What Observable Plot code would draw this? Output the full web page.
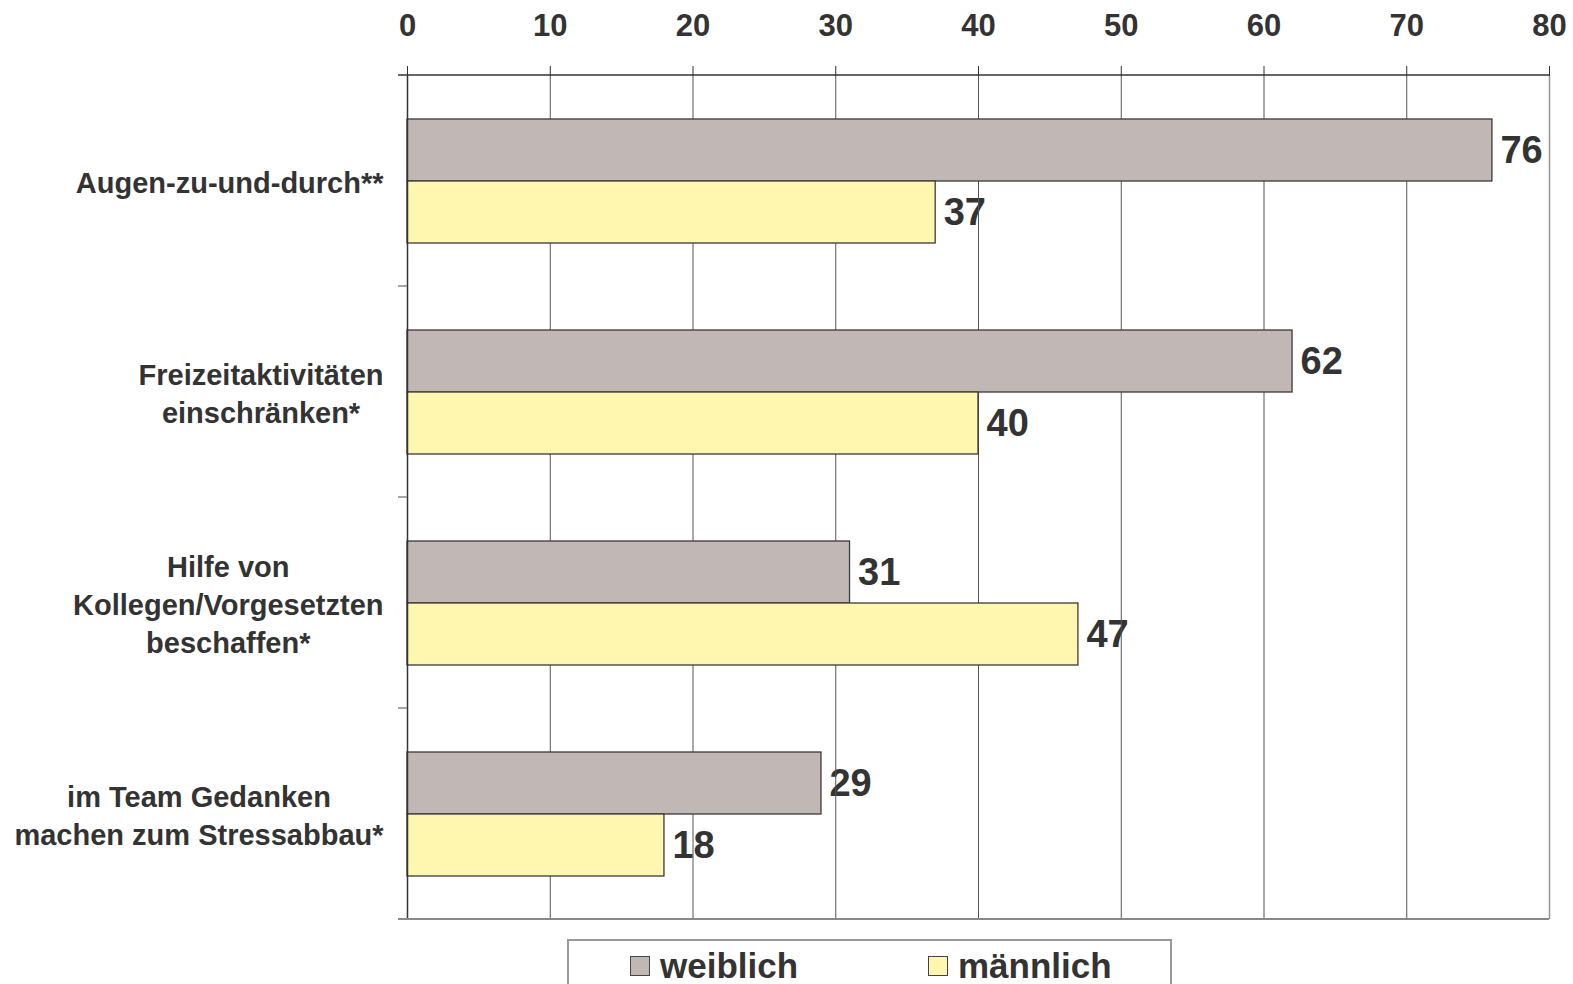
<!DOCTYPE html>
<html>
<head>
<meta charset="utf-8">
<script src="https://cdn.jsdelivr.net/npm/d3@7"></script>
<script src="https://cdn.jsdelivr.net/npm/@observablehq/plot@0.6"></script>
<style>
  html, body { margin: 0; padding: 0; background: #fff; }
  body { font-family: "Liberation Sans", Arial, Helvetica, sans-serif; color: #333; }
  #chart svg { display: block; }
  .legend {
    margin-left: 567px;
    margin-top: 9px;
    width: 605px;
    height: 60px;
    box-sizing: border-box;
    border: 2px solid #999;
    display: flex;
    align-items: flex-start;
    padding-left: 61px;
    padding-top: 5px;
  }
  .legend .item { display: flex; align-items: center; flex: 0 0 auto; font-weight: bold; font-size: 35px; line-height: 1.15; }
  .legend .item:first-child { width: 298px; }
  .legend .swatch { width: 20px; height: 20px; border: 1.5px solid #444; margin-right: 10px; box-sizing: border-box; }
</style>
</head>
<body>
<div id="chart"></div>
<script>
// Coping strategies by gender (percent)
const categories = [
  "Augen-zu-und-durch**",
  "Freizeitaktivitäten\neinschränken*",
  "Hilfe von\nKollegen/Vorgesetzten\nbeschaffen*",
  "im Team Gedanken\nmachen zum Stressabbau*"
];
const series = ["weiblich", "männlich"];
const seriesColors = ["#C1B8B6", "#FFF7B0"];
const weiblich = [76, 62, 31, 29];
const maennlich = [37, 40, 47, 18];
const xTicks = [0, 10, 20, 30, 40, 50, 60, 70, 80];
const gridTicks = [10, 20, 30, 40, 50, 60, 70];

const values = [weiblich, maennlich];
const data = categories.flatMap((cat, i) =>
  series.map((sex, s) => ({cat, sex, value: values[s][i]}))
);

const FONT = "'Liberation Sans', Arial, Helvetica, sans-serif";
const INK = "#333";
const labelSize = 29;

// width of the widest line of each category label, to centre the lines of a block
const ctx = document.createElement("canvas").getContext("2d");
ctx.font = `bold ${labelSize}px ${FONT}`;
const blockWidth = (s) => d3.max(s.split("\n"), (line) => ctx.measureText(line).width);
const labelGap = 24;

const categoryLabels = categories.map((cat) =>
  Plot.text([cat], {
    fy: (d) => d,
    text: (d) => d,
    frameAnchor: "left",
    textAnchor: "middle",
    lineAnchor: "middle",
    dx: -(labelGap + blockWidth(cat) / 2),
    lineHeight: 1.31,
    fontSize: labelSize,
    fontWeight: "bold",
    fill: INK
  })
);

const plot = Plot.plot({
  width: 1573,
  height: 930,
  marginLeft: 407,
  marginRight: 24,
  marginTop: 73,
  marginBottom: 10,
  style: {fontFamily: FONT, color: INK, background: "#fff"},
  x: {domain: [0, 80]},
  y: {domain: series, paddingInner: 0, paddingOuter: 0.7, axis: null},
  fy: {domain: categories, padding: 0, axis: null},
  color: {domain: series, range: seriesColors},
  marks: [
    // value labels sit beneath the grid lines
    Plot.text(data, {
      x: "value",
      y: "sex",
      fy: "cat",
      text: (d) => String(d.value),
      textAnchor: "start",
      lineAnchor: "middle",
      dx: 8,
      fontSize: 38,
      fontWeight: "bold",
      fill: INK
    }),
    Plot.gridX(gridTicks, {stroke: "#555", strokeOpacity: 1, strokeWidth: 1}),
    Plot.ruleX([80], {stroke: "#9a9191", strokeWidth: 1.5}),
    Plot.barX(data, {
      x: "value",
      y: "sex",
      fy: "cat",
      fill: "sex",
      stroke: "#3a3a3a",
      strokeWidth: 1.3
    }),
    Plot.ruleX([0], {stroke: "#333", strokeWidth: 1.5}),
    Plot.axisX({
      anchor: "top",
      ticks: xTicks,
      tickSize: 10,
      tickPadding: 30,
      fontSize: 31,
      fontWeight: "bold",
      color: INK,
      label: null
    }),
    ...categoryLabels
  ]
});

// frame edges and category separator ticks on the left axis
const x = plot.scale("x");
const fy = plot.scale("fy");
const bounds = [...categories.map((c) => fy.apply(c)), fy.apply(categories[categories.length - 1]) + fy.bandwidth];
const x0 = x.apply(0);
const x1 = x.apply(80);
const g = d3.select(plot).append("g");
bounds.forEach((yb, i) => {
  const isTop = i === 0;
  const isBottom = i === bounds.length - 1;
  g.append("line")
    .attr("x1", x0 - 9)
    .attr("x2", isTop || isBottom ? x1 : x0)
    .attr("y1", yb)
    .attr("y2", yb)
    .attr("stroke", isTop ? "#333" : isBottom ? "#8f8686" : "#888")
    .attr("stroke-width", isBottom ? 2 : 1.5);
});

document.getElementById("chart").append(plot);

// legend below the chart
const legend = d3.select("body").append("div").attr("class", "legend");
series.forEach((s, i) => {
  const item = legend.append("div").attr("class", "item");
  item.append("div").attr("class", "swatch").style("background", seriesColors[i]);
  item.append("span").text(s);
});
</script>
</body>
</html>
